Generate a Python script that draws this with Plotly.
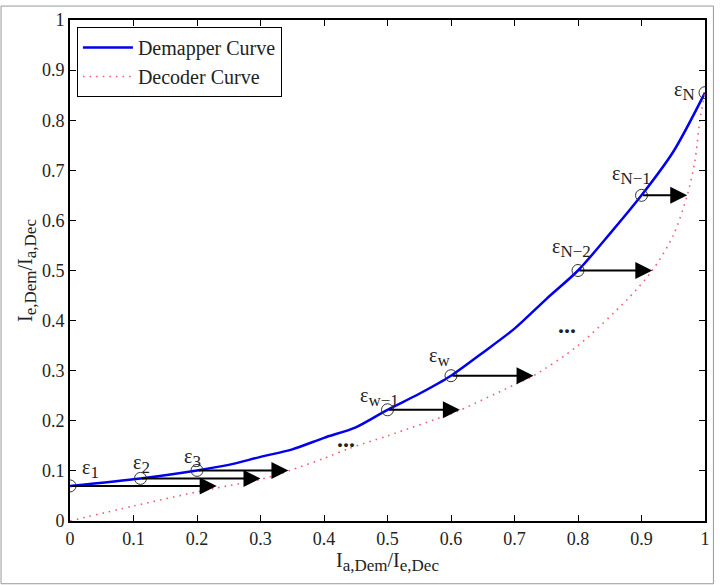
import plotly.graph_objects as go

# Demapper curve (blue)
dem_x = [0.0, 0.111, 0.2, 0.25, 0.3, 0.35, 0.4, 0.45, 0.5, 0.55, 0.6, 0.65, 0.7, 0.75, 0.8, 0.85, 0.9, 0.95, 1.0]
dem_y = [0.07, 0.085, 0.101, 0.112, 0.128, 0.143, 0.166, 0.187, 0.222, 0.254, 0.29, 0.336, 0.384, 0.443, 0.5, 0.573, 0.65, 0.737, 0.855]

# Decoder curve (red dotted)
dec_x = [0.0, 0.1, 0.2, 0.231, 0.3, 0.344, 0.4, 0.44, 0.5, 0.6, 0.614, 0.7, 0.73, 0.8, 0.878, 0.917, 0.95, 0.972, 0.984, 0.992, 1.0]
dec_y = [0.0, 0.03, 0.058, 0.066, 0.083, 0.1, 0.125, 0.145, 0.17, 0.214, 0.221, 0.272, 0.29, 0.35, 0.443, 0.5, 0.57, 0.65, 0.718, 0.8, 0.855]

# Marked points and arrow tips
pt_x = [0.0, 0.111, 0.2, 0.5, 0.6, 0.8, 0.9, 1.0]
pt_y = [0.07, 0.085, 0.101, 0.222, 0.29, 0.5, 0.65, 0.855]
arrow_end_x = [0.231, 0.3, 0.344, 0.614, 0.73, 0.917, 0.972, None]

# Labels
lab_sub = ["1", "2", "3", "w−1", "w", "N−2", "N−1", "N"]
lab_x = [0.033, 0.113, 0.193, 0.488, 0.582, 0.79, 0.884, 0.968]
lab_y = [0.103, 0.113, 0.125, 0.247, 0.328, 0.545, 0.69, 0.858]

dots_x = [0.434, 0.782]
dots_y = [0.164, 0.392]

font_family = "Liberation Serif, Times New Roman, serif"


def sub(t, size):
    return '<sub><span style="font-size:%dpx">%s</span></sub>' % (size, t)


fig = go.Figure()
fig.add_trace(go.Scatter(x=dem_x, y=dem_y, mode="lines", name="Demapper Curve",
                         line=dict(color="#0000ee", width=2.5, shape="spline", smoothing=0.8)))
fig.add_trace(go.Scatter(x=dec_x, y=dec_y, mode="lines", name="Decoder Curve",
                         line=dict(color="#f06070", width=1.6, dash="1.6px,5px",
                                   shape="spline", smoothing=0.8)))
fig.add_trace(go.Scatter(x=pt_x, y=pt_y, mode="markers", showlegend=False,
                         marker=dict(symbol="circle-open", size=12, color="#333333",
                                     line=dict(width=1))))

annotations = []
for x0, y0, x1 in zip(pt_x, pt_y, arrow_end_x):
    if x1 is None:
        continue
    annotations.append(dict(x=x1, y=y0, ax=x0, ay=y0, xref="x", yref="y", axref="x", ayref="y",
                            text="", showarrow=True, arrowhead=2, arrowsize=1.7,
                            arrowwidth=2, arrowcolor="black", standoff=0, startstandoff=0))
for t, x, y in zip(lab_sub, lab_x, lab_y):
    annotations.append(dict(x=x, y=y, xref="x", yref="y", text="ε" + sub(t, 17), showarrow=False,
                            font=dict(family=font_family, size=20, color="#222222")))
for x, y in zip(dots_x, dots_y):
    annotations.append(dict(x=x, y=y, xref="x", yref="y", text="<b>...</b>", showarrow=False,
                            font=dict(family=font_family, size=24, color="#222222")))

fig.update_layout(
    width=720, height=585,
    margin=dict(l=70, r=10, t=18, b=64),
    paper_bgcolor="white", plot_bgcolor="white",
    font=dict(family=font_family, size=18, color="#222222"),
    annotations=annotations,
    legend=dict(x=0.0109, y=0.986, xanchor="left", yanchor="top",
                bordercolor="black", borderwidth=1, bgcolor="white",
                font=dict(family=font_family, size=20), tracegroupgap=0, itemwidth=50),
    showlegend=True,
    shapes=[dict(type="rect", xref="paper", yref="paper",
                 x0=(0.5 - 70) / 640, x1=(718.5 - 70) / 640,
                 y0=(521 - 584) / 503, y1=(521 - 4) / 503,
                 line=dict(color="#999999", width=1), fillcolor="rgba(0,0,0,0)", layer="below")],
)
ticks = [i / 10 for i in range(11)]
ticktext = ["0", "0.1", "0.2", "0.3", "0.4", "0.5", "0.6", "0.7", "0.8", "0.9", "1"]
fig.update_xaxes(range=[0, 1], tickvals=ticks, ticktext=ticktext,
                 showgrid=False, zeroline=False, showline=True, linecolor="black", linewidth=2,
                 mirror="ticks", ticks="inside", ticklen=6, tickcolor="black", tickwidth=1,
                 tickfont=dict(size=18),
                 title=dict(text="I" + sub("a,Dem", 17) + "/I" + sub("e,Dec", 17),
                            font=dict(size=20), standoff=2))
fig.update_yaxes(range=[0, 1], tickvals=ticks, ticktext=ticktext,
                 showgrid=False, zeroline=False, showline=True, linecolor="black", linewidth=2,
                 mirror="ticks", ticks="inside", ticklen=6, tickcolor="black", tickwidth=1,
                 tickfont=dict(size=18),
                 title=dict(text="I" + sub("e,Dem", 17) + "/I" + sub("a,Dec", 17),
                            font=dict(size=20), standoff=4))

fig.write_html("out.html")
